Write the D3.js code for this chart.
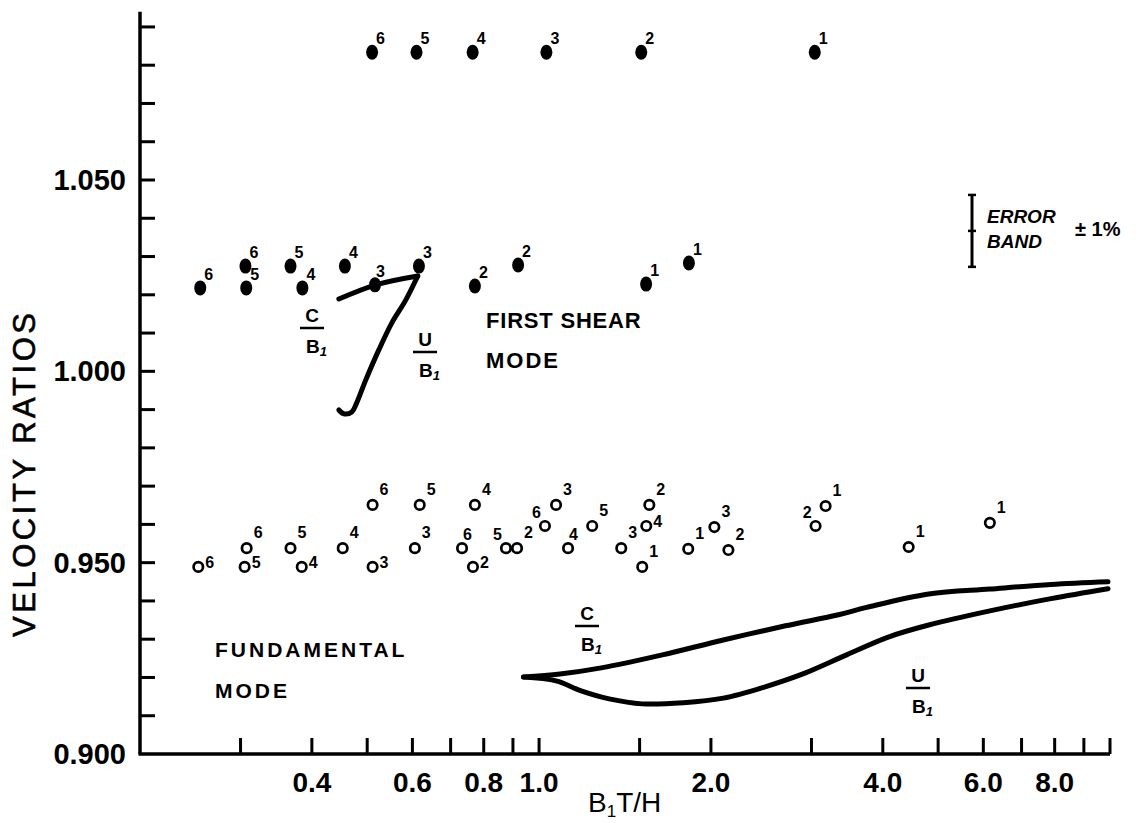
<!DOCTYPE html>
<html>
<head>
<meta charset="utf-8">
<script src="https://cdn.jsdelivr.net/npm/d3@7"></script>
<style>
  html, body { margin: 0; padding: 0; background: #fff; }
  #chart { width: 1141px; height: 823px; }
  text { fill: #000; }
</style>
</head>
<body>
<div id="chart"></div>
<script>
// ---- data ----
const xTicks = [0.3, 0.4, 0.5, 0.6, 0.7, 0.8, 0.9, 1.0, 1.5, 2, 3, 4, 5, 6, 7, 8, 9, 10];
const xTickLabels = [0.4, 0.6, 0.8, 1.0, 2.0, 4.0, 6.0, 8.0];
const yTicks = d3.range(0.91, 1.0901, 0.01);
const yTickLabels = [0.900, 0.950, 1.000, 1.050];

// first shear mode (filled dots)
const shearX = [0.51, 0.61, 0.765, 1.03, 1.51, 3.04,
  0.255, 0.306, 0.307, 0.367, 0.385, 0.457, 0.516, 0.616, 0.772, 0.919, 1.54, 1.83];
const shearY = [1.0834, 1.0834, 1.0834, 1.0834, 1.0834, 1.0834,
  1.0218, 1.0275, 1.0218, 1.0275, 1.0218, 1.0275, 1.0226, 1.0275, 1.0223, 1.0278, 1.0228, 1.0283];
const shearN = [6, 5, 4, 3, 2, 1, 6, 6, 5, 5, 4, 4, 3, 3, 2, 2, 1, 1];
const shearSide = ["dot", "dot", "dot", "dot", "dot", "dot",
  "dot", "dot", "dot", "dot", "dot", "dot", "n", "dot", "dot", "dot", "dot", "dot"];

// fundamental mode (open circles)
const fundX = [0.253, 0.3075, 0.305, 0.367, 0.384, 0.453, 0.511, 0.511, 0.618, 0.606,
  0.772, 0.733, 0.766, 0.875, 0.915, 1.024, 1.071, 1.124, 1.239, 1.393,
  1.516, 1.56, 1.541, 1.825, 2.028, 2.146, 3.05, 3.176, 4.44, 6.16];
const fundY = [0.9489, 0.9538, 0.9489, 0.9538, 0.9489, 0.9538, 0.9651, 0.9489, 0.9651, 0.9538,
  0.9651, 0.9538, 0.9489, 0.9538, 0.9538, 0.9596, 0.9651, 0.9538, 0.9596, 0.9538,
  0.9489, 0.9651, 0.9596, 0.9536, 0.9593, 0.9533, 0.9596, 0.9648, 0.9541, 0.9604];
const fundN = [6, 6, 5, 5, 4, 4, 6, 3, 5, 3, 4, 6, 2, 5, 2, 6, 3, 4, 5, 3,
  1, 2, 4, 1, 3, 2, 2, 1, 1, 1];
const fundSide = ["e", "ne", "e", "ne", "e", "ne", "ne", "e", "ne", "ne",
  "ne", "n", "e", "nw", "ne", "nw", "ne", "n", "ne", "ne",
  "ne", "ne", "e", "ne", "ne", "ne", "nw", "ne", "ne", "ne"];

// curves C/B1 and U/B1
const shearCX = [0.446, 0.518, 0.613];
const shearCY = [1.0189, 1.0226, 1.0249];
const shearUX = [0.613, 0.584, 0.552, 0.524, 0.497, 0.479, 0.470, 0.455, 0.446];
const shearUY = [1.0249, 1.0186, 1.0126, 1.0056, 0.9977, 0.9917, 0.9894, 0.9889, 0.9899];
const fundCX = [0.939, 1.088, 1.285, 1.644, 2.102, 2.702, 3.346, 3.747, 4.814, 6.16, 7.88, 9.92];
const fundCY = [0.9201, 0.9209, 0.9225, 0.9259, 0.9298, 0.9335, 0.9364, 0.9383, 0.9418, 0.9431, 0.9443, 0.9450];
const fundUX = [0.939, 1.071, 1.185, 1.327, 1.516, 1.789, 2.102, 2.481, 2.929, 3.456, 4.078, 4.814, 6.16, 7.88, 9.92];
const fundUY = [0.9201, 0.9191, 0.9165, 0.9144, 0.9131, 0.9134, 0.9146, 0.9175, 0.9212, 0.9259, 0.9305, 0.9337, 0.9374, 0.9406, 0.9432];

// error band
const errCenter = 1.0367;
const errHalf = 0.0094;

(function () {
  const W = 1141, H = 823;
  const FONT = "'Liberation Sans', Arial, sans-serif";

  const svg = d3.select("#chart").append("svg")
    .attr("width", W).attr("height", H)
    .style("font-family", FONT);

  const x = d3.scaleLog().domain([0.2, 10]).range([140, 1110]);
  const y = d3.scaleLinear().domain([0.9, 1.05]).range([754, 180]);
  const yTop = y(1.094);

  // axes
  const ax = svg.append("g").attr("stroke", "#000").attr("fill", "none");
  ax.append("line")
    .attr("x1", x(0.2)).attr("x2", x(0.2))
    .attr("y1", yTop).attr("y2", y(0.9))
    .attr("stroke-width", 3.5);
  ax.append("line")
    .attr("x1", x(0.2) - 1.5).attr("x2", x(10))
    .attr("y1", y(0.9)).attr("y2", y(0.9))
    .attr("stroke-width", 3.5);

  ax.selectAll(".yt").data(yTicks).join("line")
    .attr("x1", x(0.2)).attr("x2", x(0.2) + 15)
    .attr("y1", d => y(d)).attr("y2", d => y(d))
    .attr("stroke-width", 3);

  ax.selectAll(".xt").data(xTicks).join("line")
    .attr("x1", d => x(d)).attr("x2", d => x(d))
    .attr("y1", y(0.9)).attr("y2", y(0.9) - 16)
    .attr("stroke-width", 3);

  svg.selectAll(".ytl").data(yTickLabels).join("text")
    .attr("x", 126).attr("y", d => y(d) + 10)
    .attr("text-anchor", "end")
    .attr("font-size", 29).attr("font-weight", 700)
    .text(d => d.toFixed(3));

  svg.selectAll(".xtl").data(xTickLabels).join("text")
    .attr("x", d => x(d)).attr("y", 792)
    .attr("text-anchor", "middle")
    .attr("font-size", 28).attr("font-weight", 700)
    .text(d => d.toFixed(1));

  // axis titles
  svg.append("text")
    .attr("transform", "translate(35,475) rotate(-90)")
    .attr("text-anchor", "middle")
    .attr("font-size", 31)
    .attr("stroke", "#000").attr("stroke-width", 0.6)
    .attr("textLength", 324).attr("lengthAdjust", "spacing")
    .text("VELOCITY RATIOS");

  const xt = svg.append("text")
    .attr("x", 588).attr("y", 812)
    .attr("font-size", 28)
    .style("font-family", "'Liberation Sans Narrow', " + FONT);
  xt.append("tspan").text("B");
  xt.append("tspan").attr("font-size", 17).attr("dy", 5).text("1");
  xt.append("tspan").attr("dy", -5).text("T/H");

  // curves
  const line = d3.line().x(d => x(d[0])).y(d => y(d[1])).curve(d3.curveCatmullRom);
  const curves = [
    d3.zip(shearCX, shearCY), d3.zip(shearUX, shearUY),
    d3.zip(fundCX, fundCY), d3.zip(fundUX, fundUY)
  ];
  svg.append("g").selectAll("path").data(curves).join("path")
    .attr("d", line)
    .attr("fill", "none").attr("stroke", "#000")
    .attr("stroke-width", 5).attr("stroke-linecap", "round").attr("stroke-linejoin", "round");

  // label offsets by side code
  const off = {
    dot: { dx: 4, dy: -8, anchor: "start" },
    ne: { dx: 7, dy: -10, anchor: "start" },
    e:  { dx: 7, dy: 1, anchor: "start" },
    n:  { dx: 1, dy: -8, anchor: "start" },
    nw: { dx: -4, dy: -8, anchor: "end" }
  };

  // first shear dots
  const shear = d3.range(shearX.length).map(i => ({ x: shearX[i], y: shearY[i], n: shearN[i], s: shearSide[i] }));
  svg.append("g").selectAll("ellipse").data(shear).join("ellipse")
    .attr("cx", d => x(d.x)).attr("cy", d => y(d.y))
    .attr("rx", 6).attr("ry", 7.5).attr("fill", "#000");
  svg.append("g").selectAll("text").data(shear).join("text")
    .attr("x", d => x(d.x) + off[d.s].dx)
    .attr("y", d => y(d.y) + off[d.s].dy)
    .attr("text-anchor", d => off[d.s].anchor)
    .attr("font-size", 16).attr("font-weight", 700)
    .text(d => d.n);

  // fundamental circles
  const fund = d3.range(fundX.length).map(i => ({ x: fundX[i], y: fundY[i], n: fundN[i], s: fundSide[i] }));
  svg.append("g").selectAll("circle").data(fund).join("circle")
    .attr("cx", d => x(d.x)).attr("cy", d => y(d.y))
    .attr("r", 4.7).attr("fill", "none").attr("stroke", "#000").attr("stroke-width", 2.7);
  svg.append("g").selectAll("text").data(fund).join("text")
    .attr("x", d => x(d.x) + off[d.s].dx)
    .attr("y", d => y(d.y) + off[d.s].dy)
    .attr("text-anchor", d => off[d.s].anchor)
    .attr("font-size", 16).attr("font-weight", 700)
    .text(d => d.n);

  // fraction labels C/B1, U/B1
  function frac(cx, top, num) {
    const g = svg.append("g").attr("font-weight", 700).attr("font-size", 19);
    g.append("text").attr("x", cx).attr("y", top + 14).attr("text-anchor", "middle").text(num);
    g.append("line").attr("x1", cx - 12).attr("x2", cx + 12)
      .attr("y1", top + 20).attr("y2", top + 20)
      .attr("stroke", "#000").attr("stroke-width", 2.5);
    const b = g.append("text").attr("x", cx - 6).attr("y", top + 45);
    b.append("tspan").text("B");
    b.append("tspan").attr("font-size", 13).attr("dy", 3).attr("font-style", "italic").text("1");
  }
  frac(312, 308, "C");
  frac(425, 332, "U");
  frac(587, 606, "C");
  frac(918, 668, "U");

  // mode labels
  const modeTxt = svg.append("g").attr("font-weight", 700);
  modeTxt.append("text").attr("x", 486).attr("y", 328)
    .attr("font-size", 22).attr("letter-spacing", 0.8).text("FIRST SHEAR");
  modeTxt.append("text").attr("x", 486).attr("y", 368)
    .attr("font-size", 22).attr("letter-spacing", 2).text("MODE");
  modeTxt.append("text").attr("x", 215).attr("y", 657)
    .attr("font-size", 21).attr("letter-spacing", 3).text("FUNDAMENTAL");
  modeTxt.append("text").attr("x", 215).attr("y", 698)
    .attr("font-size", 21).attr("letter-spacing", 3).text("MODE");

  // error band
  const eb = svg.append("g").attr("stroke", "#000").attr("stroke-width", 3);
  const ex = 972;
  eb.append("line").attr("x1", ex).attr("x2", ex)
    .attr("y1", y(errCenter + errHalf)).attr("y2", y(errCenter - errHalf));
  [errCenter + errHalf, errCenter, errCenter - errHalf].forEach(v => {
    eb.append("line").attr("x1", ex - 4).attr("x2", ex + 4)
      .attr("y1", y(v)).attr("y2", y(v)).attr("stroke-width", 2.5);
  });
  const et = svg.append("g").attr("font-size", 19).attr("font-style", "italic").attr("font-weight", 700);
  et.append("text").attr("x", 987).attr("y", 223).text("ERROR");
  et.append("text").attr("x", 987).attr("y", 248).text("BAND");
  svg.append("text").attr("x", 1075).attr("y", 236)
    .attr("font-size", 20).attr("font-weight", 700).text("± 1%");
})();
</script>
</body>
</html>
